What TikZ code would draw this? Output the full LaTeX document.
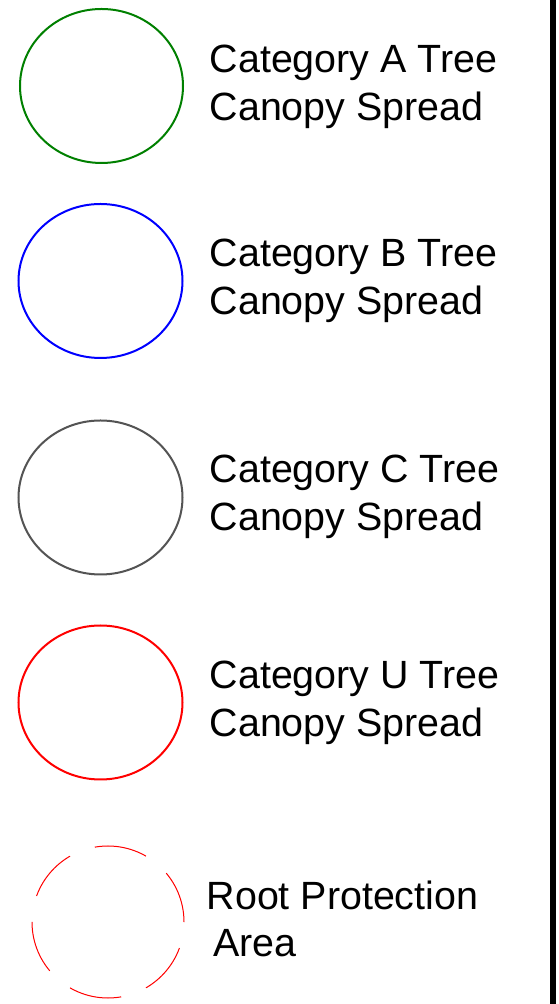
\documentclass[tikz,border=0pt]{standalone}
\usepackage{fontspec}
\setmainfont{Liberation Sans}
\begin{document}
\begin{tikzpicture}[x=1pt,y=1pt,
  canopy/.style={line width=2pt},
  rpa/.style={red, line width=1pt, dash pattern=on 53.06pt off 26.53pt},
  legendtext/.style={anchor=base west, inner sep=0pt, align=left,
    font=\fontsize{39.4}{47.5}\selectfont}]
  \useasboundingbox (0,0) rectangle (558,1004);
  \fill[white] (0,0) rectangle (558,1004);

  % frame edge on the right
  \fill[black] (550,0) rectangle (555.5,1004);

  % canopy symbols
  \coordinate (ca) at (101.5,918);
  \coordinate (cb) at (100.5,723);
  \coordinate (cc) at (100.5,506.5);
  \coordinate (cu) at (100.5,301.5);
  \coordinate (cr) at (108,82);
  \draw[canopy, green!50!black] (ca) ellipse [x radius=81.5, y radius=77];
  \draw[canopy, blue] (cb) ellipse [x radius=82, y radius=77];
  \draw[canopy, black!67] (cc) ellipse [x radius=82, y radius=77];
  \draw[canopy, red] (cu) ellipse [x radius=82, y radius=77];
  \draw[rpa] (cr) circle [radius=76];

  % labels (anchored at the baseline of their last line)
  \node[legendtext] (ta) at (209.5,883.5) {Category A Tree\\Canopy Spread};
  \node[legendtext] (tb) at (209.5,689.5) {Category B Tree\\Canopy Spread};
  \node[legendtext] (tc) at (209.5,473.5) {Category C Tree\\Canopy Spread};
  \node[legendtext] (tu) at (209.5,267.5) {Category U Tree\\Canopy Spread};
  \node[legendtext] (tr) at (206.5,47.5) {Root Protection\\\hspace*{6.5pt}Area};
\end{tikzpicture}
\end{document}
